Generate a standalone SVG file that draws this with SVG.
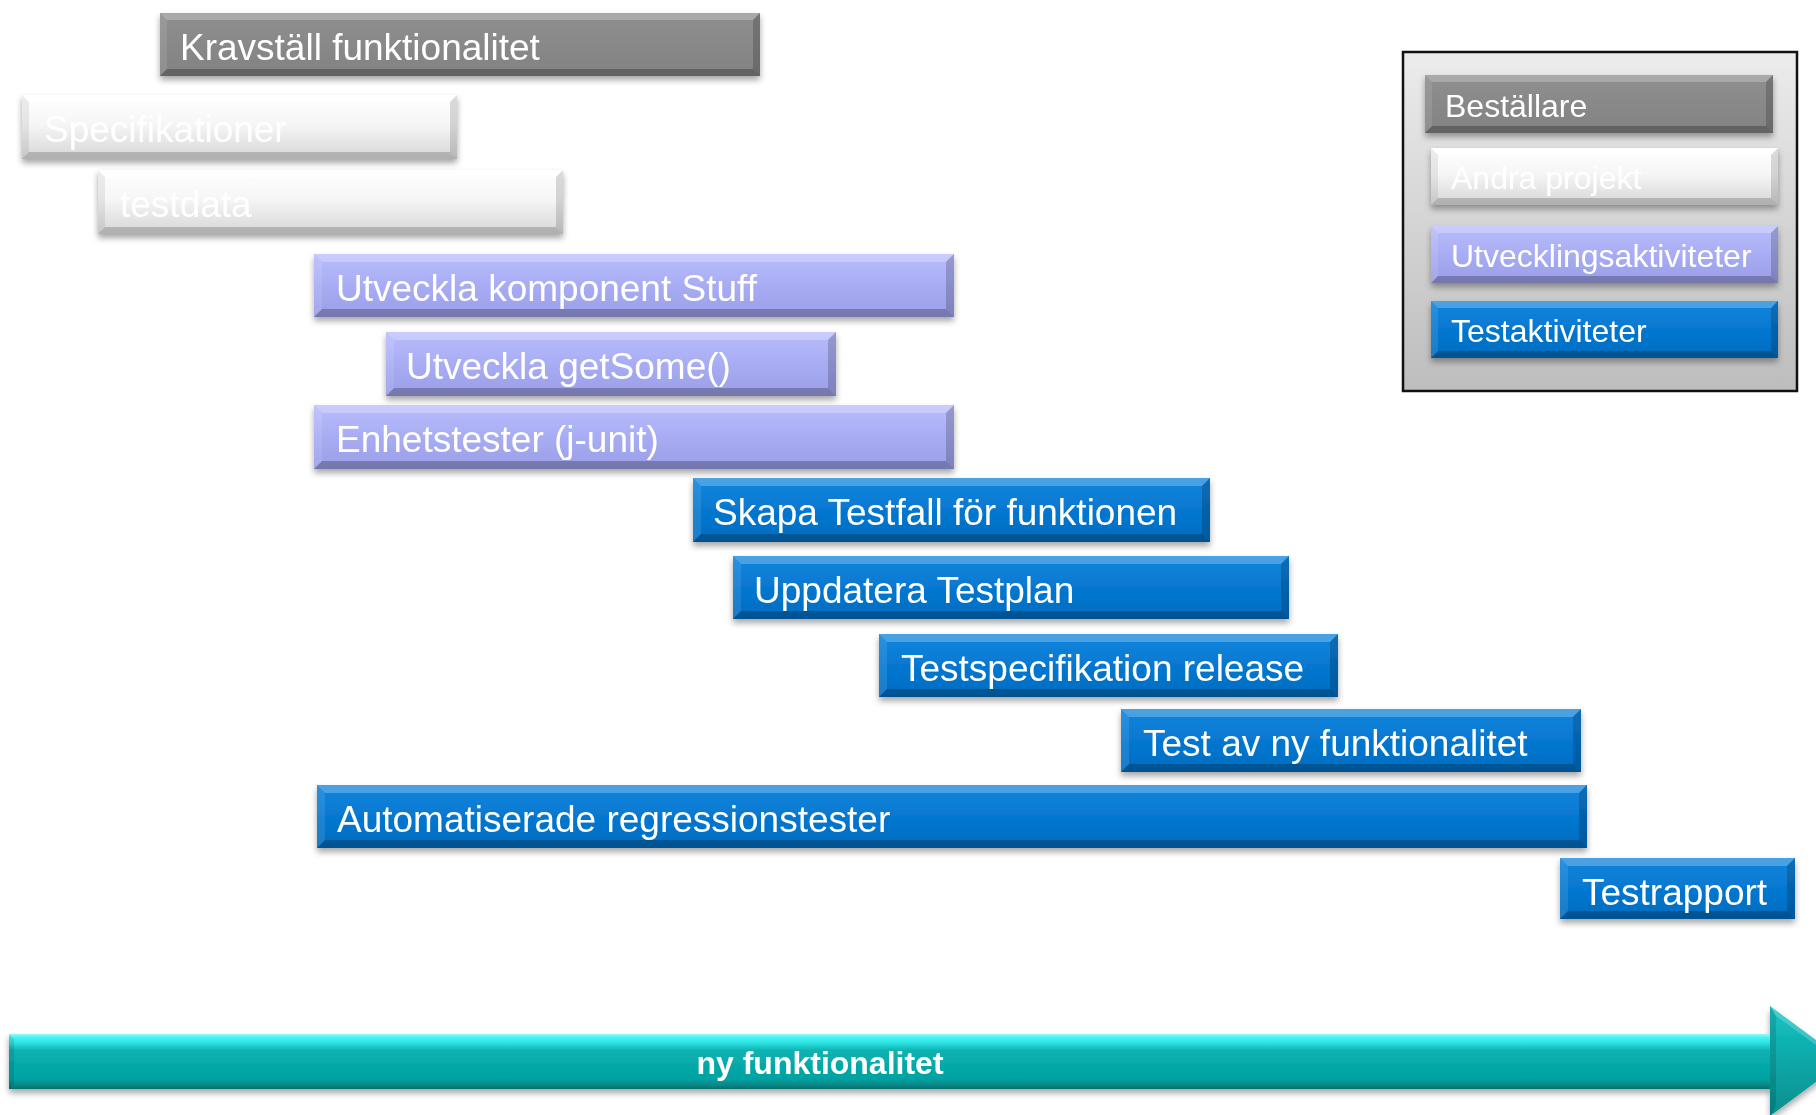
<svg xmlns="http://www.w3.org/2000/svg" width="1816" height="1115" viewBox="0 0 1816 1115">
<style>
text{font-family:"Liberation Sans",Arial,Helvetica,sans-serif;fill:#fff;font-size:37px}
.leg text{font-size:32px}
.node{filter:url(#shadow)}
.gray rect{fill:url(#gGray)}
.white rect{fill:url(#gWhite)}
.lav rect{fill:url(#gLav)}
.blue rect{fill:url(#gBlue)}
.bt{fill:#fff;fill-opacity:.24}
.bb{fill:#000;fill-opacity:.24}
.bl{fill:#fff;fill-opacity:.1}
.br{fill:#000;fill-opacity:.18}
.white .bt{fill:#fff;fill-opacity:.9}
.white .bl{fill:#000;fill-opacity:.07}
.white .br{fill:#000;fill-opacity:.14}
.white .bb{fill:#000;fill-opacity:.18}
</style>
<defs>
<filter id="shadow" x="-5%" y="-20%" width="110%" height="150%">
<feDropShadow dx="0" dy="4" stdDeviation="3" flood-color="#000" flood-opacity="0.35"/>
</filter>
<linearGradient id="gGray" x1="0" y1="0" x2="0" y2="1"><stop offset="0" stop-color="#8f8f8f"/><stop offset="1" stop-color="#828282"/></linearGradient>
<linearGradient id="gWhite" x1="0" y1="0" x2="0" y2="1"><stop offset="0" stop-color="#ffffff"/><stop offset="0.45" stop-color="#f6f6f6"/><stop offset="1" stop-color="#d6d6d6"/></linearGradient>
<linearGradient id="gLav" x1="0" y1="0" x2="0" y2="1"><stop offset="0" stop-color="#b9bdfc"/><stop offset="0.5" stop-color="#a8acf3"/><stop offset="1" stop-color="#9a9ee6"/></linearGradient>
<linearGradient id="gBlue" x1="0" y1="0" x2="0" y2="1"><stop offset="0" stop-color="#1286dd"/><stop offset="0.5" stop-color="#0677d0"/><stop offset="1" stop-color="#066dc0"/></linearGradient>
<linearGradient id="gLegend" x1="0" y1="0" x2="0" y2="1"><stop offset="0" stop-color="#ececec"/><stop offset="1" stop-color="#bdbdbd"/></linearGradient>
<linearGradient id="gShaft" gradientUnits="userSpaceOnUse" x1="0" y1="1034" x2="0" y2="1089"><stop offset="0" stop-color="#a0f6f6"/><stop offset="0.06" stop-color="#46f4f4"/><stop offset="0.16" stop-color="#2fe2e2"/><stop offset="0.3" stop-color="#0db2b2"/><stop offset="0.55" stop-color="#06a9a9"/><stop offset="0.82" stop-color="#06a2a2"/><stop offset="0.92" stop-color="#078888"/><stop offset="1" stop-color="#067272"/></linearGradient>
<linearGradient id="gHead" gradientUnits="userSpaceOnUse" x1="0" y1="1006" x2="0" y2="1116"><stop offset="0" stop-color="#1cc4c4"/><stop offset="0.5" stop-color="#08a8a8"/><stop offset="1" stop-color="#078c8c"/></linearGradient>
</defs>
<rect width="1816" height="1115" fill="#fff"/>

<g id="n-kravstall" class="node gray" transform="translate(160,13)">
<rect width="600" height="63"/>
<path class="bt" d="M0 0h600l-7 7h-586z"/><path class="bb" d="M0 63h600l-7 -7h-586z"/><path class="bl" d="M0 0v63l7 -7v-49z"/><path class="br" d="M600 0v63l-7 -7v-49z"/>
<text x="20" y="47">Kravställ funktionalitet</text>
</g>
<g id="n-specifikationer" class="node white" transform="translate(22,95)">
<rect width="435" height="64"/>
<path class="bt" d="M0 0h435l-7 7h-421z"/><path class="bb" d="M0 64h435l-7 -7h-421z"/><path class="bl" d="M0 0v64l7 -7v-50z"/><path class="br" d="M435 0v64l-7 -7v-50z"/>
<text x="22" y="47">Specifikationer</text>
</g>
<g id="n-testdata" class="node white" transform="translate(98,170)">
<rect width="465" height="64"/>
<path class="bt" d="M0 0h465l-7 7h-451z"/><path class="bb" d="M0 64h465l-7 -7h-451z"/><path class="bl" d="M0 0v64l7 -7v-50z"/><path class="br" d="M465 0v64l-7 -7v-50z"/>
<text x="22" y="47">testdata</text>
</g>
<g id="n-stuff" class="node lav" transform="translate(314,254)">
<rect width="640" height="63"/>
<path class="bt" d="M0 0h640l-8 8h-624z"/><path class="bb" d="M0 63h640l-8 -8h-624z"/><path class="bl" d="M0 0v63l8 -8v-47z"/><path class="br" d="M640 0v63l-8 -8v-47z"/>
<text x="22" y="47">Utveckla komponent Stuff</text>
</g>
<g id="n-getsome" class="node lav" transform="translate(386,332)">
<rect width="450" height="64"/>
<path class="bt" d="M0 0h450l-8 8h-434z"/><path class="bb" d="M0 64h450l-8 -8h-434z"/><path class="bl" d="M0 0v64l8 -8v-48z"/><path class="br" d="M450 0v64l-8 -8v-48z"/>
<text x="20" y="47">Utveckla getSome()</text>
</g>
<g id="n-enhet" class="node lav" transform="translate(314,405)">
<rect width="640" height="64"/>
<path class="bt" d="M0 0h640l-8 8h-624z"/><path class="bb" d="M0 64h640l-8 -8h-624z"/><path class="bl" d="M0 0v64l8 -8v-48z"/><path class="br" d="M640 0v64l-8 -8v-48z"/>
<text x="22" y="47">Enhetstester (j-unit)</text>
</g>
<g id="n-skapa" class="node blue" transform="translate(693,478)">
<rect width="517" height="64"/>
<path class="bt" d="M0 0h517l-8 8h-501z"/><path class="bb" d="M0 64h517l-8 -8h-501z"/><path class="bl" d="M0 0v64l8 -8v-48z"/><path class="br" d="M517 0v64l-8 -8v-48z"/>
<text x="20" y="47">Skapa Testfall för funktionen</text>
</g>
<g id="n-uppdatera" class="node blue" transform="translate(733,556)">
<rect width="556" height="63"/>
<path class="bt" d="M0 0h556l-8 8h-540z"/><path class="bb" d="M0 63h556l-8 -8h-540z"/><path class="bl" d="M0 0v63l8 -8v-47z"/><path class="br" d="M556 0v63l-8 -8v-47z"/>
<text x="21" y="47">Uppdatera Testplan</text>
</g>
<g id="n-testspec" class="node blue" transform="translate(879,634)">
<rect width="459" height="63"/>
<path class="bt" d="M0 0h459l-8 8h-443z"/><path class="bb" d="M0 63h459l-8 -8h-443z"/><path class="bl" d="M0 0v63l8 -8v-47z"/><path class="br" d="M459 0v63l-8 -8v-47z"/>
<text x="22" y="47">Testspecifikation release</text>
</g>
<g id="n-testav" class="node blue" transform="translate(1121,709)">
<rect width="460" height="63"/>
<path class="bt" d="M0 0h460l-8 8h-444z"/><path class="bb" d="M0 63h460l-8 -8h-444z"/><path class="bl" d="M0 0v63l8 -8v-47z"/><path class="br" d="M460 0v63l-8 -8v-47z"/>
<text x="22" y="47">Test av ny funktionalitet</text>
</g>
<g id="n-auto" class="node blue" transform="translate(317,785)">
<rect width="1270" height="63"/>
<path class="bt" d="M0 0h1270l-8 8h-1254z"/><path class="bb" d="M0 63h1270l-8 -8h-1254z"/><path class="bl" d="M0 0v63l8 -8v-47z"/><path class="br" d="M1270 0v63l-8 -8v-47z"/>
<text x="20" y="47">Automatiserade regressionstester</text>
</g>
<g id="n-testrapport" class="node blue" transform="translate(1560,858)">
<rect width="235" height="61"/>
<path class="bt" d="M0 0h235l-8 8h-219z"/><path class="bb" d="M0 61h235l-8 -8h-219z"/><path class="bl" d="M0 0v61l8 -8v-45z"/><path class="br" d="M235 0v61l-8 -8v-45z"/>
<text x="22" y="47">Testrapport</text>
</g>

<g id="legend" class="leg">
<rect x="1403" y="52" width="394" height="339" fill="url(#gLegend)" stroke="#111" stroke-width="2.5"/>
<g id="leg-bestallare" class="node gray" transform="translate(1425,75)">
<rect width="348" height="58"/>
<path class="bt" d="M0 0h348l-7 7h-334z"/><path class="bb" d="M0 58h348l-7 -7h-334z"/><path class="bl" d="M0 0v58l7 -7v-44z"/><path class="br" d="M348 0v58l-7 -7v-44z"/>
<text x="20" y="42">Beställare</text>
</g>
<g id="leg-andra" class="node white" transform="translate(1431,148)">
<rect width="347" height="57"/>
<path class="bt" d="M0 0h347l-7 7h-333z"/><path class="bb" d="M0 57h347l-7 -7h-333z"/><path class="bl" d="M0 0v57l7 -7v-43z"/><path class="br" d="M347 0v57l-7 -7v-43z"/>
<text x="20" y="41">Andra projekt</text>
</g>
<g id="leg-utv" class="node lav" transform="translate(1431,226)">
<rect width="347" height="57"/>
<path class="bt" d="M0 0h347l-7 7h-333z"/><path class="bb" d="M0 57h347l-7 -7h-333z"/><path class="bl" d="M0 0v57l7 -7v-43z"/><path class="br" d="M347 0v57l-7 -7v-43z"/>
<text x="20" y="41">Utvecklingsaktiviteter</text>
</g>
<g id="leg-test" class="node blue" transform="translate(1431,301)">
<rect width="347" height="57"/>
<path class="bt" d="M0 0h347l-7 7h-333z"/><path class="bb" d="M0 57h347l-7 -7h-333z"/><path class="bl" d="M0 0v57l7 -7v-43z"/><path class="br" d="M347 0v57l-7 -7v-43z"/>
<text x="20" y="41">Testaktiviteter</text>
</g>
</g>

<g id="connectors">
<g id="timeline-arrow" filter="url(#shadow)">
<path d="M9 1034H1772V1089H9z" fill="url(#gShaft)"/>
<path d="M1770 1006L1844 1061L1770 1116z" fill="url(#gHead)"/>
<path d="M1770 1006L1844 1061L1838 1061L1776 1016z" fill="#fff" fill-opacity=".2"/>
<path d="M1770 1006V1116L1776 1106V1016z" fill="#000" fill-opacity=".12"/>
<path d="M9 1034V1089L14 1084V1039z" fill="#000" fill-opacity=".1"/>
<text x="820" y="1074" text-anchor="middle" font-weight="bold" style="font-size:32px">ny funktionalitet</text>
</g>
</g>
</svg>
